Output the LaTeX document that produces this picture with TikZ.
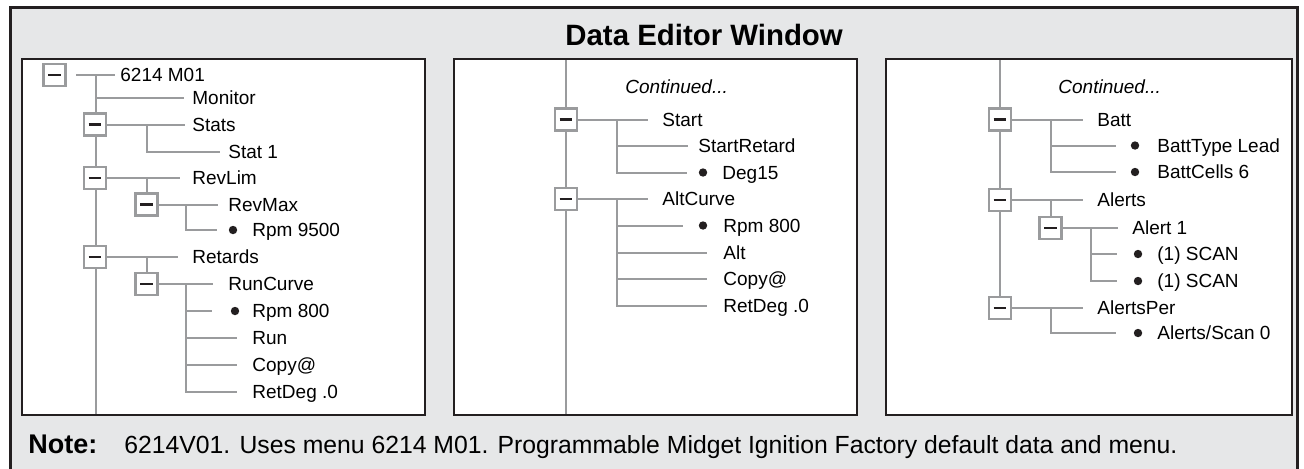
\documentclass[tikz,border=0pt]{standalone}
\usepackage{fontspec}
\setmainfont{Liberation Sans}

\definecolor{inkblack}{HTML}{231F20}
\definecolor{treegray}{HTML}{9A9B9D}
\definecolor{panelbg}{HTML}{E6E7E8}
\newcommand{\treefont}{\fontsize{9.5}{11}\selectfont}

\begin{document}
\begin{tikzpicture}[x=0.5pt, y=-0.5pt]
  \tikzstyle{branch} = [treegray, line width=1pt]
  \tikzstyle{elbow} = [to path={|- (\tikztotarget)}]
  \tikzstyle{panel} = [draw=inkblack, fill=white, line width=1.2pt]
  \tikzstyle{togglebox} = [draw=treegray, line width=1.1pt, fill=white, rectangle, minimum size=11pt, inner sep=0pt,
    path picture={\draw[inkblack, line width=1.4pt] ([xshift=-3.2pt]path picture bounding box.center) -- ([xshift=3.2pt]path picture bounding box.center);}]
  \tikzstyle{entry} = [anchor=west, inner sep=0pt, text height=6.8pt, text depth=0pt, font={\treefont}]
  \tikzstyle{leafdot} = [circle, fill=inkblack, inner sep=0pt, minimum size=4.2pt]

  \useasboundingbox (0,0) rectangle (1304,468);

  % window frame and title
  \draw[inkblack, fill=panelbg, line width=1.5pt] (10,480) -- (10,7) -- (1297,7) -- (1297,480);
  \node[anchor=base west, inner sep=0pt, font={\bfseries\fontsize{14.7}{17}\selectfont}] (title) at (565,45) {Data Editor Window};

  \draw[panel] (22,59) rectangle (425,415);
  \draw[panel] (454,59) rectangle (857,415);
  \draw[panel] (886,59) rectangle (1292,415);

  % trunks go under the boxes
  \coordinate (trunkA) at (96,75);
  \coordinate (trunkAend) at (96,414);
  \coordinate (trunkB) at (566,60);
  \coordinate (trunkBend) at (566,414);
  \coordinate (trunkC) at (1000,60);
  \coordinate (trunkCend) at (1000,308);
  \draw[branch] (trunkA) -- (trunkAend);
  \draw[branch] (trunkB) -- (trunkBend);
  \draw[branch] (trunkC) -- (trunkCend);

  % first panel
  \node[togglebox] (rootB) at (54.5,75) {};
  \coordinate (rootJ) at (76,75);
  \node[entry] (rootL) at (120,75) {6214 M01};
  \node[entry] (monitorL) at (192,98) {Monitor};
  \node[togglebox] (statsB) at (95,124.5) {};
  \node[entry] (statsL) at (192,124.5) {Stats};
  \coordinate (statsJ) at (146.5,124.5);
  \node[entry] (stat1L) at (228,151.5) {Stat 1};
  \node[togglebox] (revlimB) at (95,178) {};
  \node[entry] (revlimL) at (192,178) {RevLim};
  \coordinate (revlimJ) at (146.5,178);
  \node[togglebox] (revmaxB) at (146.5,204.5) {};
  \node[entry] (revmaxL) at (228,204.5) {RevMax};
  \coordinate (revmaxJ) at (186,204.5);
  \node[leafdot] (rpmAD) at (233,230) {};
  \node[entry] (rpmAL) at (252,230) {Rpm 9500};
  \node[togglebox] (retardsB) at (95,257) {};
  \node[entry] (retardsL) at (192,257) {Retards};
  \coordinate (retardsJ) at (146.5,257);
  \node[togglebox] (runcurveB) at (146.5,284) {};
  \node[entry] (runcurveL) at (228,284) {RunCurve};
  \coordinate (runcurveJ) at (186,284);
  \node[leafdot] (rpmBD) at (235,311) {};
  \node[entry] (rpmBL) at (252,311) {Rpm 800};
  \node[entry] (runL) at (252,337.5) {Run};
  \node[entry] (copyAL) at (252,364.5) {Copy@};
  \node[entry] (retdegAL) at (252,391.5) {RetDeg .0};

  \path[branch] (rootJ) edge[shorten >=2.5pt] (rootL.west)
        (monitorL.west -| trunkA) edge[shorten >=4pt] (monitorL.west)
        (statsB.east) edge[shorten >=3.5pt] (statsL.west)
        (statsJ) edge[elbow, shorten >=4pt] (stat1L.west)
        (revlimB.east) edge[shorten >=6pt] (revlimL.west)
        (revlimJ) edge (revmaxB.north)
        (revmaxB.east) edge[shorten >=5pt] (revmaxL.west)
        (revmaxJ) edge[elbow, shorten >=5.5pt] (rpmAD.west)
        (retardsB.east) edge[shorten >=7pt] (retardsL.west)
        (retardsJ) edge (runcurveB.north)
        (runcurveB.east) edge[shorten >=7.5pt] (runcurveL.west)
        (runcurveJ) edge[elbow, shorten >=9pt] (rpmBD.west)
                    edge[elbow, shorten >=7.5pt] (runL.west)
                    edge[elbow, shorten >=7.5pt] (copyAL.west)
                    edge[elbow, shorten >=7.5pt] (retdegAL.west);

  % second panel
  \node[entry, font={\itshape\treefont}] (contBL) at (625,87) {Continued...};
  \node[togglebox] (startB) at (566,119.5) {};
  \node[entry] (startL) at (662,119.5) {Start};
  \coordinate (startJ) at (617,119.5);
  \node[entry] (startretL) at (698,146) {StartRetard};
  \node[leafdot] (degD) at (703,172.5) {};
  \node[entry] (degL) at (722,172.5) {Deg15};
  \node[togglebox] (altcurveB) at (566,199) {};
  \node[entry] (altcurveL) at (662,199) {AltCurve};
  \coordinate (altcurveJ) at (617,199);
  \node[leafdot] (rpmCD) at (703,225.5) {};
  \node[entry] (rpmCL) at (723,225.5) {Rpm 800};
  \node[entry] (altL) at (723,252.5) {Alt};
  \node[entry] (copyBL) at (723,279) {Copy@};
  \node[entry] (retdegBL) at (723,306) {RetDeg .0};

  \path[branch] (startB.east) edge[shorten >=7pt] (startL.west)
        (startJ) edge[elbow, shorten >=5pt] (startretL.west)
                 edge[elbow, shorten >=5.5pt] (degD.west)
        (altcurveB.east) edge[shorten >=7pt] (altcurveL.west)
        (altcurveJ) edge[elbow, shorten >=7.5pt] (rpmCD.west)
                    edge[elbow, shorten >=8pt] (altL.west)
                    edge[elbow, shorten >=8pt] (copyBL.west)
                    edge[elbow, shorten >=8pt] (retdegBL.west);

  % third panel
  \node[entry, font={\itshape\treefont}] (contCL) at (1058,87) {Continued...};
  \node[togglebox] (battB) at (1000,119.5) {};
  \node[entry] (battL) at (1097,119.5) {Batt};
  \coordinate (battJ) at (1051,119.5);
  \node[leafdot] (typeD) at (1135,145.5) {};
  \node[entry] (typeL) at (1157,145.5) {BattType Lead};
  \node[leafdot] (cellsD) at (1135,172) {};
  \node[entry] (cellsL) at (1157,172) {BattCells 6};
  \node[togglebox] (alertsB) at (1000,200) {};
  \node[entry] (alertsL) at (1097,200) {Alerts};
  \coordinate (alertsJ) at (1050.5,200);
  \node[togglebox] (alertoneB) at (1050.5,228) {};
  \node[entry] (alertoneL) at (1132,228) {Alert 1};
  \coordinate (alertoneJ) at (1091,228);
  \node[leafdot] (scanAD) at (1138,254) {};
  \node[entry] (scanAL) at (1157,254) {(1) SCAN};
  \node[leafdot] (scanBD) at (1138,281) {};
  \node[entry] (scanBL) at (1157,281) {(1) SCAN};
  \node[togglebox] (alertsperB) at (1000,308) {};
  \node[entry] (alertsperL) at (1097,308) {AlertsPer};
  \coordinate (alertsperJ) at (1051,308);
  \node[leafdot] (perD) at (1138,333) {};
  \node[entry] (perL) at (1157,333) {Alerts/Scan 0};

  \path[branch] (battB.east) edge[shorten >=7pt] (battL.west)
        (battJ) edge[elbow, shorten >=7pt] (typeD.west)
                edge[elbow, shorten >=7pt] (cellsD.west)
        (alertsB.east) edge[shorten >=7pt] (alertsL.west)
        (alertsJ) edge (alertoneB.north)
        (alertoneB.east) edge[shorten >=7pt] (alertoneL.west)
        (alertoneJ) edge[elbow, shorten >=8pt] (scanAD.west)
                    edge[elbow, shorten >=8pt] (scanBD.west)
        (alertsperB.east) edge[shorten >=7pt] (alertsperL.west)
        (alertsperJ) edge[elbow, shorten >=8.5pt] (perD.west);

  % note line
  \node[anchor=base west, inner sep=0pt, font={\bfseries\fontsize{13.5}{16}\selectfont}] (noteL) at (28,453) {Note:};
  \node[anchor=base west, inner sep=0pt, font={\fontsize{12.4}{15}\selectfont}] (noteT) at (124,453)
    {\resizebox{526.5pt}{\height}{6214V01. Uses menu 6214 M01. Programmable Midget Ignition Factory default data and menu.}};
\end{tikzpicture}
\end{document}
